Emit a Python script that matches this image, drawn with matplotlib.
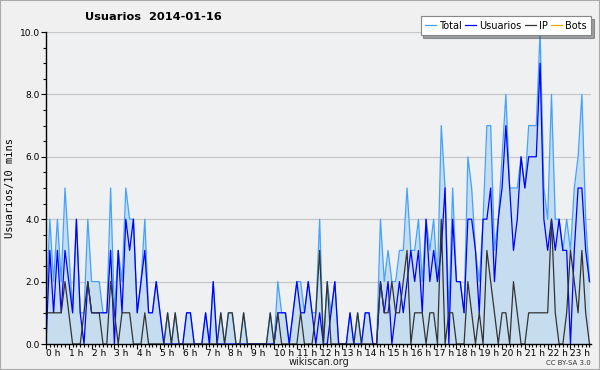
import matplotlib
matplotlib.use("Agg")
import matplotlib.pyplot as plt
from matplotlib.ticker import MultipleLocator

# 10-minute buckets, 144 per day
total = [1, 4, 2, 4, 2, 5,  3, 1, 4, 1, 1, 4,  2, 2, 2, 1, 1, 5,  1, 3, 2, 5, 4, 4,
         1, 2, 4, 1, 1, 2,  1, 0, 1, 0, 1, 0,  0, 1, 1, 0, 0, 0,  1, 0, 2, 0, 1, 0,
         1, 1, 0, 0, 1, 0,  0, 0, 0, 0, 0, 1,  0, 2, 1, 1, 0, 1,  2, 2, 1, 2, 1, 1,
         4, 0, 2, 1, 2, 0,  0, 0, 1, 0, 1, 0,  1, 1, 0, 0, 4, 2,  3, 2, 2, 3, 3, 5,
         3, 3, 4, 2, 4, 3,  4, 2, 7, 5, 1, 5,  2, 2, 1, 6, 5, 3,  2, 4, 7, 7, 3, 4,
         6, 8, 5, 5, 5, 6,  5, 7, 7, 7, 10, 5, 4, 8, 4, 4, 3, 4,  3, 5, 6, 8, 4, 2]
usuarios = [0, 3, 1, 3, 1, 3,  2, 1, 4, 1, 0, 2,  1, 1, 1, 1, 1, 3,  0, 3, 1, 4, 3, 4,
            1, 2, 3, 1, 1, 2,  1, 0, 0, 0, 0, 0,  0, 1, 1, 0, 0, 0,  1, 0, 2, 0, 0, 0,
            0, 0, 0, 0, 0, 0,  0, 0, 0, 0, 0, 0,  0, 1, 1, 1, 0, 1,  2, 1, 1, 2, 1, 0,
            1, 0, 0, 1, 2, 0,  0, 0, 1, 0, 0, 0,  1, 1, 0, 0, 2, 1,  2, 0, 1, 2, 1, 2,
            3, 2, 3, 1, 4, 2,  3, 2, 3, 5, 0, 4,  2, 2, 1, 4, 4, 3,  1, 4, 4, 5, 2, 4,
            5, 7, 5, 3, 4, 6,  5, 6, 6, 6, 9, 4,  3, 4, 3, 4, 3, 3,  0, 3, 5, 5, 3, 2]
ip = [1, 1, 1, 1, 1, 2,  1, 0, 0, 0, 1, 2,  1, 1, 1, 0, 0, 2,  1, 0, 1, 1, 1, 0,
      0, 0, 1, 0, 0, 0,  0, 0, 1, 0, 1, 0,  0, 0, 0, 0, 0, 0,  0, 0, 0, 0, 1, 0,
      1, 1, 0, 0, 1, 0,  0, 0, 0, 0, 0, 1,  0, 1, 0, 0, 0, 0,  0, 1, 0, 0, 0, 1,
      3, 0, 2, 0, 0, 0,  0, 0, 0, 0, 1, 0,  0, 0, 0, 0, 2, 1,  1, 2, 1, 1, 2, 3,
      0, 1, 1, 1, 0, 1,  1, 0, 4, 0, 1, 1,  0, 0, 0, 2, 1, 0,  1, 0, 3, 2, 1, 0,
      1, 1, 0, 2, 1, 0,  0, 1, 1, 1, 1, 1,  1, 4, 1, 0, 0, 1,  3, 2, 1, 3, 1, 0]
bots = [0] * 144
hour_labels = [f"{h} h" for h in range(24)]

t = [i / 6 for i in range(len(total))]

fig = plt.figure(figsize=(6.0, 3.7), dpi=100, facecolor="#f0f0f0")
ax = fig.add_axes([46 / 600, 26 / 370, 545 / 600, 312 / 370])
ax.set_facecolor("#eef0f2")

ax.fill_between(t, total, 0, color="#c6ddf0", lw=0)
ax.plot(t, total, color="#44a2ff", lw=0.9, label="Total")
ax.plot(t, usuarios, color="#0000ff", lw=0.9, label="Usuarios")
ax.plot(t, ip, color="#333333", lw=0.9, label="IP")
ax.plot(t, bots, color="#ffa500", lw=0.9, label="Bots", alpha=0)

ax.set_xlim(0, 23.9)
ax.set_ylim(0, 10)
ax.yaxis.set_major_locator(MultipleLocator(2))
ax.yaxis.set_minor_locator(MultipleLocator(0.5))
ax.set_yticklabels([f"{v:.1f}" for v in ax.get_yticks()])
ax.set_xticks(range(24))
ax.set_xticklabels(hour_labels)
ax.xaxis.set_minor_locator(MultipleLocator(1 / 6))
ax.grid(axis="y", color="#c8c8c8", lw=0.9)
ax.set_axisbelow(True)
for s in ("top", "right"):
    ax.spines[s].set_visible(False)
for s in ("left", "bottom"):
    ax.spines[s].set_linewidth(1.0)
ax.tick_params(axis="both", which="major", labelsize=6.5, length=3.5, width=0.8, pad=1, colors="#000000")
ax.tick_params(axis="x", which="major", pad=0)
ax.tick_params(axis="both", which="minor", length=2.5, width=0.8)
for lab in ax.get_xticklabels():
    lab.set_horizontalalignment("left")
ax.set_ylabel("Usuarios/10 mins", fontsize=7.5, family="DejaVu Sans Mono", labelpad=3)

fig.text(85 / 600, 1 - 17 / 370, "Usuarios  2014-01-16", fontsize=8.2, fontweight="bold",
         va="center", ha="left")
fig.text(0.5 * (46 + 591) / 600, 1 - 362 / 370, "wikiscan.org", fontsize=7, ha="center",
         va="center", color="#222222")
fig.text(591 / 600, 1 - 363 / 370, "CC BY-SA 3.0", fontsize=5, ha="right", va="center", color="#333333")

leg = ax.legend(loc="upper right", bbox_to_anchor=(1.0, 1.05), ncol=4, fontsize=7,
                frameon=True, fancybox=False, shadow=True, handlelength=1.1,
                handletextpad=0.3, columnspacing=0.4, borderpad=0.45, borderaxespad=0)
leg.get_frame().set_edgecolor("#888888")
leg.get_frame().set_linewidth(0.8)
for h in leg.legend_handles:
    h.set_alpha(1)

fig.patches.append(plt.Rectangle((0, 0), 1, 1, transform=fig.transFigure, fill=False,
                                 edgecolor="#aaaaaa", lw=1.5))
fig.savefig("out.png", dpi=100, facecolor=fig.get_facecolor())
